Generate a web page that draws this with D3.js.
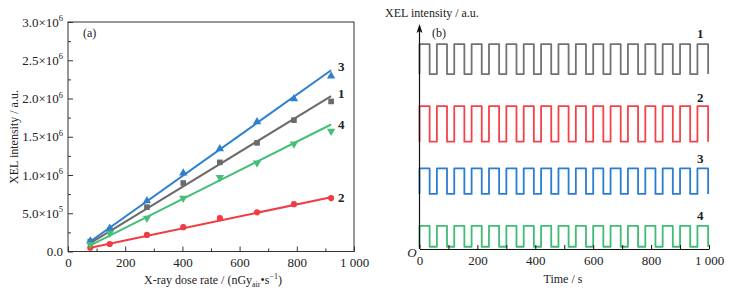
<!DOCTYPE html>
<html><head><meta charset="utf-8">
<script src="https://cdn.jsdelivr.net/npm/d3@7"></script>
<style>
html,body{margin:0;padding:0;background:#fff;}
svg text{font-family:"Liberation Serif","Times New Roman",serif;fill:#222;}
</style></head>
<body>
<svg id="c" width="731" height="295"></svg>
<script>
// ---------- Panel (a) data ----------
const doseRates = [78, 146, 276, 403, 531, 661, 790, 920];
const series1 = [0.129e6, 0.28e6, 0.58e6, 0.895e6, 1.165e6, 1.42e6, 1.717e6, 1.962e6];
const series2 = [0.05e6, 0.098e6, 0.217e6, 0.318e6, 0.436e6, 0.512e6, 0.619e6, 0.698e6];
const series3 = [0.138e6, 0.304e6, 0.663e6, 1.026e6, 1.341e6, 1.696e6, 1.997e6, 2.294e6];
const series4 = [0.094e6, 0.24e6, 0.436e6, 0.698e6, 0.969e6, 1.157e6, 1.407e6, 1.572e6];
// linear-fit lines (value at first and last dose rate)
const fitStart = [0.11e6, 0.05e6, 0.13e6, 0.08e6];
const fitEnd   = [2.03e6, 0.71e6, 2.37e6, 1.66e6];
const seriesNames = ["1", "2", "3", "4"];
const aXTicks = [0, 200, 400, 600, 800, 1000];
const aXTickLabels = ["0", "200", "400", "600", "800", "1 000"];
const aYTicks = [0, 0.5e6, 1.0e6, 1.5e6, 2.0e6, 2.5e6, 3.0e6];
const aYTickMant = ["0.0", "5.0×10", "1.0×10", "1.5×10", "2.0×10", "2.5×10", "3.0×10"];
const aYTickExp  = ["", "5", "6", "6", "6", "6", "6"];

// ---------- Panel (b) data ----------
const xrayOn  = [0, 60, 120, 180, 240, 300, 360, 420, 480, 540, 600, 660, 720, 780, 840, 900, 960];
const xrayOff = [35, 95, 155, 215, 275, 335, 395, 455, 515, 575, 635, 695, 755, 815, 875, 935, 997];
const waveHigh = [9.15, 6.38, 3.60, 1.03];
const waveLow  = [7.81, 4.79, 2.46, 0.10];
const bXTicks = [0, 200, 400, 600, 800, 1000];
const bXTickLabels = ["0", "200", "400", "600", "800", "1 000"];

const colors = ["#6b6b6b", "#f03c44", "#2e7fce", "#45bf78"];
const waveColors = ["#727272", "#f2434b", "#2b7dcf", "#3fbd74"];

const svg = d3.select("#c");
const axisColor = "#333";

// ================= Panel (a) =================
const xa = d3.scaleLinear().domain([0, 1000]).range([68, 354]);
const ya = d3.scaleLinear().domain([0, 3.0e6]).range([251.5, 22]);
const ga = svg.append("g");

ga.append("rect").attr("x", xa(0)).attr("y", ya(3.0e6))
  .attr("width", xa(1000) - xa(0)).attr("height", ya(0) - ya(3.0e6))
  .attr("fill", "none").attr("stroke", axisColor).attr("stroke-width", 1);

const xAxisA = d3.axisBottom(xa).tickValues(aXTicks).tickSizeInner(-5).tickSizeOuter(0)
  .tickFormat((d, i) => aXTickLabels[i]).tickPadding(6);
const gxa = ga.append("g").attr("transform", `translate(0,${ya(0)})`).call(xAxisA);
gxa.select(".domain").remove();
gxa.selectAll("text").attr("font-size", 13).attr("font-family", "Liberation Serif").attr("fill", "#222");
gxa.selectAll("line").attr("stroke", axisColor);
const xMinorA = d3.axisBottom(xa).tickValues([100, 300, 500, 700, 900]).tickSizeInner(-3).tickSizeOuter(0).tickFormat("");
const gxma = ga.append("g").attr("transform", `translate(0,${ya(0)})`).call(xMinorA);
gxma.select(".domain").remove(); gxma.selectAll("line").attr("stroke", axisColor);

const yAxisA = d3.axisLeft(ya).tickValues(aYTicks).tickSizeInner(-5).tickSizeOuter(0).tickFormat("");
const gya = ga.append("g").attr("transform", `translate(${xa(0)},0)`).call(yAxisA);
gya.select(".domain").remove(); gya.selectAll("line").attr("stroke", axisColor);
const yMinorA = d3.axisLeft(ya).tickValues([0.25e6, 0.75e6, 1.25e6, 1.75e6, 2.25e6, 2.75e6]).tickSizeInner(-3).tickSizeOuter(0).tickFormat("");
const gyma = ga.append("g").attr("transform", `translate(${xa(0)},0)`).call(yMinorA);
gyma.select(".domain").remove(); gyma.selectAll("line").attr("stroke", axisColor);
aYTicks.forEach((v, i) => {
  const t = ga.append("text").attr("x", xa(0) - 5).attr("y", ya(v) + 4.5)
    .attr("text-anchor", "end").attr("font-size", 13);
  t.append("tspan").text(aYTickMant[i]);
  if (aYTickExp[i]) t.append("tspan").attr("font-size", 8.5).attr("dy", -5.5).text(aYTickExp[i]);
});

ga.append("text").attr("x", 213).attr("y", 284).attr("text-anchor", "middle").attr("font-size", 12)
  .call(t => {
    t.append("tspan").text("X-ray dose rate / (nGy");
    t.append("tspan").attr("font-size", 8).attr("dy", 3).text("air");
    t.append("tspan").attr("dy", -3).text("•s");
    t.append("tspan").attr("font-size", 8).attr("dy", -5).text("−1");
    t.append("tspan").attr("dy", 5).text(")");
  });
ga.append("text").attr("transform", `translate(18,137) rotate(-90)`).attr("text-anchor", "middle")
  .attr("font-size", 12).text("XEL intensity / a.u.");
ga.append("text").attr("x", 83).attr("y", 37).attr("font-size", 12).text("(a)");

const allA = [series1, series2, series3, series4];
const dFirst = doseRates[0], dLast = doseRates[doseRates.length - 1];
allA.forEach((s, i) => {
  ga.append("line").attr("x1", xa(dFirst)).attr("y1", ya(fitStart[i]))
    .attr("x2", xa(dLast)).attr("y2", ya(fitEnd[i]))
    .attr("stroke", colors[i]).attr("stroke-width", 2);
});
const symTypes = [d3.symbolSquare, d3.symbolCircle, d3.symbolTriangle, d3.symbolTriangle];
const symSizes = [32, 30, 30, 30];
allA.forEach((s, i) => {
  ga.append("g").selectAll("path").data(s).join("path")
    .attr("d", d3.symbol().type(symTypes[i]).size(symSizes[i]))
    .attr("transform", (d, j) => `translate(${xa(doseRates[j])},${ya(d)})` + (i === 3 ? " rotate(180)" : ""))
    .attr("fill", colors[i]);
});
const aLabelDy = [2, 4.5, 1, 4.5];
fitEnd.forEach((v, i) => {
  ga.append("text").attr("x", 338).attr("y", ya(v) + aLabelDy[i]).attr("font-size", 13)
    .attr("font-weight", "bold").text(seriesNames[i]);
});

// ================= Panel (b) =================
const xb = d3.scaleLinear().domain([0, 1000]).range([419.5, 709]);
const yb = d3.scaleLinear().domain([0, 10]).range([249, 25]);
const gb = svg.append("g");

waveHigh.forEach((hi, i) => {
  const pts = [];
  xrayOn.forEach((on, k) => {
    pts.push([on, waveLow[i]], [on, hi], [xrayOff[k], hi], [xrayOff[k], waveLow[i]]);
    if (k + 1 < xrayOn.length) pts.push([xrayOn[k + 1], waveLow[i]]);
  });
  gb.append("path").datum(pts)
    .attr("d", d3.line().x(d => xb(d[0])).y(d => yb(d[1])))
    .attr("fill", "none").attr("stroke", waveColors[i]).attr("stroke-width", 1.8)
    .attr("stroke-linejoin", "round");
});

const xAxisB = d3.axisBottom(xb).tickValues(bXTicks).tickSizeInner(-4).tickSizeOuter(0)
  .tickFormat((d, i) => bXTickLabels[i]).tickPadding(7);
const gxb = gb.append("g").attr("transform", `translate(0,${yb(0)})`).call(xAxisB);
gxb.select(".domain").attr("stroke", "#111").attr("stroke-width", 1.2);
gxb.selectAll("line").attr("stroke", "#111");
gxb.selectAll("text").attr("font-size", 13).attr("font-family", "Liberation Serif").attr("fill", "#222");
const xMinorB = d3.axisBottom(xb).tickValues([100, 300, 500, 700, 900]).tickSizeInner(-4).tickSizeOuter(0).tickFormat("");
const gxmb = gb.append("g").attr("transform", `translate(0,${yb(0)})`).call(xMinorB);
gxmb.select(".domain").remove(); gxmb.selectAll("line").attr("stroke", "#111");

gb.append("line").attr("x1", xb(0)).attr("x2", xb(0)).attr("y1", yb(0)).attr("y2", yb(10) + 2)
  .attr("stroke", "#111").attr("stroke-width", 1.2);
gb.append("path").attr("d", `M${xb(0)},${yb(10) - 1} L${xb(0) - 3},${yb(10) + 8} L${xb(0)},${yb(10) + 6} L${xb(0) + 3},${yb(10) + 8} Z`)
  .attr("fill", "#111");
gb.append("text").attr("x", 412).attr("y", 257).attr("text-anchor", "middle").attr("font-size", 13)
  .attr("font-style", "italic").text("O");

gb.append("text").attr("x", 385).attr("y", 17).attr("font-size", 12).text("XEL intensity / a.u.");
gb.append("text").attr("x", 563).attr("y", 283).attr("text-anchor", "middle").attr("font-size", 12).text("Time / s");
gb.append("text").attr("x", 432).attr("y", 37).attr("font-size", 12).text("(b)");

const bLabelOffset = [-6, -4, -5, -6];
waveHigh.forEach((v, i) => {
  gb.append("text").attr("x", 697).attr("y", yb(v) + bLabelOffset[i]).attr("font-size", 13).attr("font-weight", "bold")
    .text(seriesNames[i]);
});
</script>
</body></html>
